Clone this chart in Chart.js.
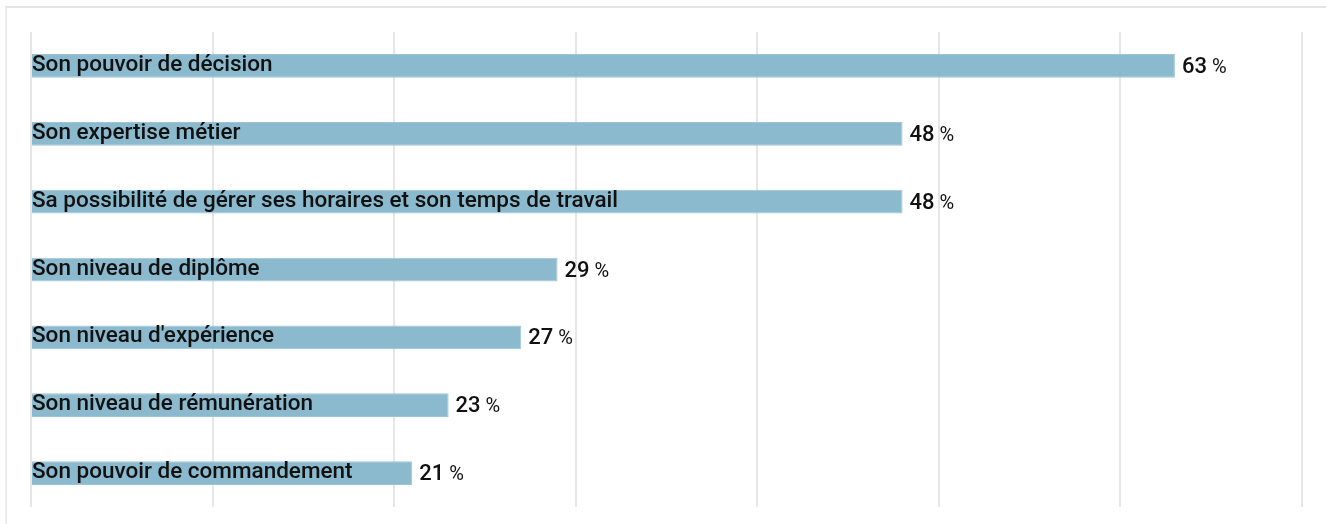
<!DOCTYPE html>
<html>
<head>
<meta charset="utf-8">
<script src="https://cdn.jsdelivr.net/npm/chart.js@4"></script>
<style>
  html, body { margin: 0; padding: 0; background: #fff; }
  body { width: 1326px; height: 524px; position: relative; overflow: hidden; }
  .frame { position: absolute; left: 5px; top: 6px; width: 1330px; height: 530px;
           border-top: 2px solid #e4e4e4; border-left: 2px solid #ececec; }
  #wrap { position: absolute; left: 0; top: 0; width: 1326px; height: 524px; }
</style>
</head>
<body>
<div class="frame"></div>
<div id="wrap"><canvas id="chart" width="1326" height="524"></canvas></div>
<script>
const categories = [
    'Son pouvoir de décision',
    'Son expertise métier',
    'Sa possibilité de gérer ses horaires et son temps de travail',
    'Son niveau de diplôme',
    "Son niveau d'expérience",
    'Son niveau de rémunération',
    'Son pouvoir de commandement'
];
const values = [63, 48, 48, 29, 27, 23, 21];
const axisMax = 70;
const axisStep = 10;

const FONT = 'Roboto, "Noto Sans", sans-serif';

// labels inside bars + value labels after bars
const barLabels = {
    id: 'barLabels',
    afterDatasetsDraw(chart) {
        const ctx = chart.ctx;
        const meta = chart.getDatasetMeta(0);
        const xScale = chart.scales.x;
        ctx.save();
        ctx.fillStyle = '#111';
        ctx.textBaseline = 'alphabetic';
        ctx.textAlign = 'left';
        meta.data.forEach((bar, i) => {
            ctx.font = '500 22.5px ' + FONT;
            ctx.fillText(categories[i], xScale.getPixelForValue(0) + 1, bar.y + 5);

            const num = String(values[i]);
            let x = bar.x + 7;
            ctx.font = '500 22px ' + FONT;
            ctx.fillText(num, x, bar.y + 7);
            x += ctx.measureText(num).width + 5;
            ctx.font = '400 20px ' + FONT;
            ctx.fillText('%', x, bar.y + 7);
        });
        ctx.restore();
    }
};

new Chart(document.getElementById('chart'), {
    type: 'bar',
    data: {
        labels: categories,
        datasets: [{
            data: values,
            backgroundColor: '#8bb9cd',
            borderColor: '#9cc4d5',
            borderWidth: 1,
            categoryPercentage: 1,
            barPercentage: 0.35
        }]
    },
    options: {
        indexAxis: 'y',
        responsive: false,
        animation: false,
        layout: { padding: { left: 31, right: 24, top: 32, bottom: 17 } },
        plugins: { legend: { display: false }, tooltip: { enabled: false } },
        scales: {
            x: {
                min: 0, max: axisMax,
                ticks: { display: false, stepSize: axisStep },
                grid: { color: '#e6e6e6', lineWidth: 2, drawTicks: false },
                border: { display: false }
            },
            y: { display: false }
        }
    },
    plugins: [barLabels]
});
</script>
</body>
</html>
